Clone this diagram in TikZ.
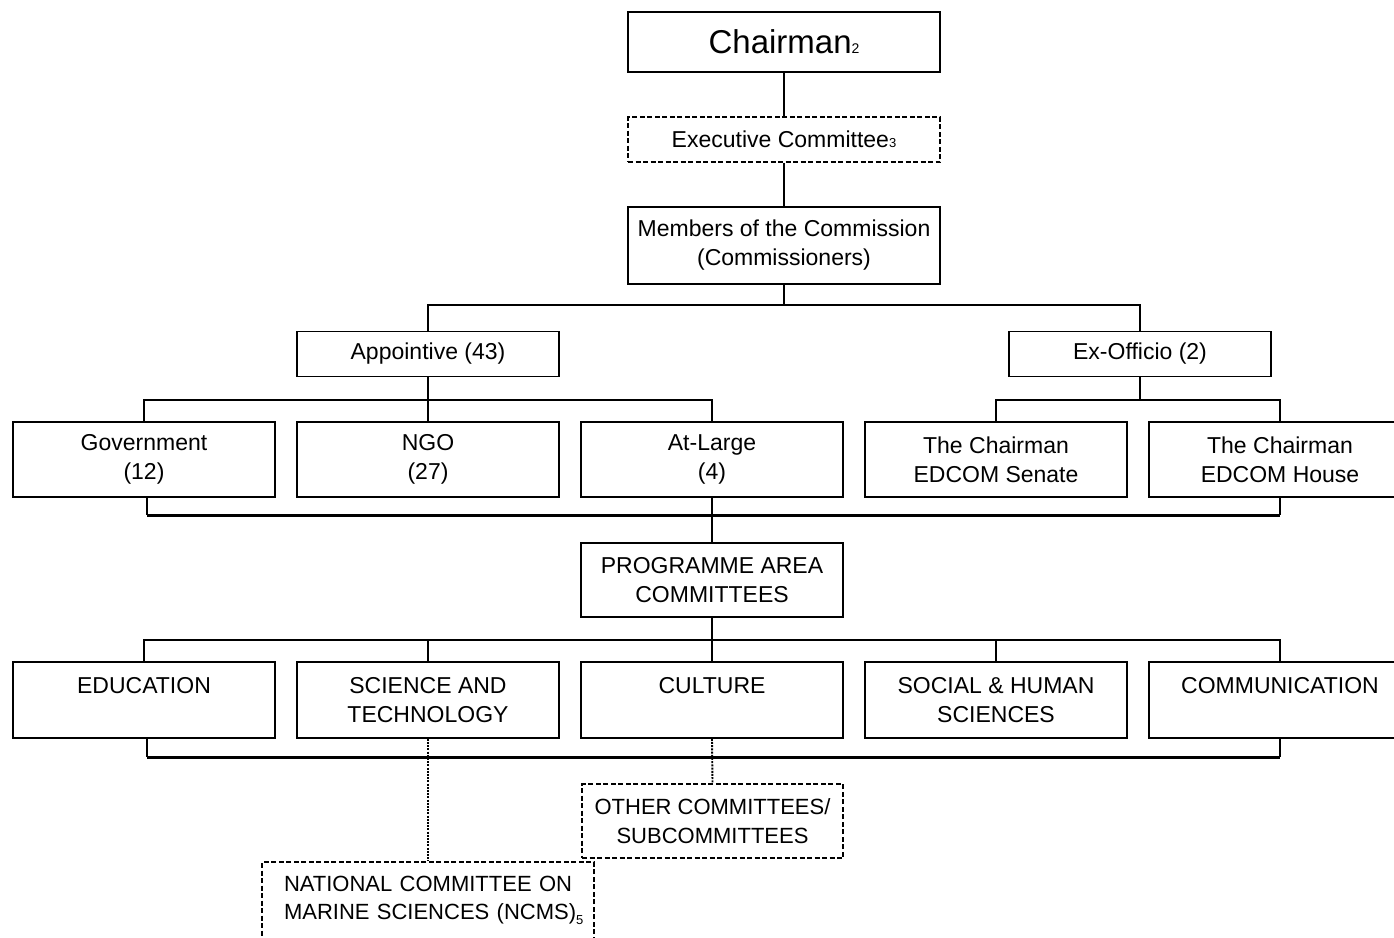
\documentclass[tikz,border=0pt]{standalone}
\usepackage{fontspec}
\setmainfont{Liberation Sans}
\newcommand\normaltxt{\fontsize{23}{29}\selectfont}
\newcommand\smalltxt{\fontsize{22}{28.5}\selectfont}
\newcommand\bigtxt{\fontsize{33}{40}\selectfont}
\begin{document}
\begin{tikzpicture}[x=1pt,y=-1pt,
  box/.style={draw, line width=1.5pt, inner sep=0pt, minimum width=262pt, minimum height=75pt, align=center, font=\normaltxt},
  dbox/.style={box, dash pattern=on 5pt off 2.5pt},
  conn/.style={line width=1.5pt},
  bar/.style={line width=3pt},
  dotl/.style={line width=1.9pt, dash pattern=on 2pt off 1.2pt}]
\clip (0,0) rectangle (1394,937);
\fill[white] (0,0) rectangle (1394,937);
% top
\node[box, minimum width=312pt, minimum height=60pt, font=\bigtxt] (chair) at (784,42) {Chairman{\fontsize{14}{14}\selectfont 2}};
\node[dbox, minimum width=312pt, minimum height=45pt] (exec) at (784,139.5) {Executive Committee{\fontsize{13}{13}\selectfont 3}};
\node[box, minimum width=312pt, minimum height=77pt] (mem) at (784,245.5) {Members of the Commission\\(Commissioners)};
\node[box, minimum height=45pt] (app) at (428,354) {Appointive (43)};
\node[box, minimum height=45pt] (exo) at (1140,354) {Ex-Officio (2)};
% row 1
\node[box] (gov) at (144,459.5) {Government\\(12)};
\node[box] (ngo) at (428,459.5) {NGO\\(27)};
\node[box] (atl) at (712,459.5) {At-Large\\(4)};
\node[box] (sen) at (996,459.5) {The Chairman\\EDCOM Senate};
\node[box] (hou) at (1280,459.5) {The Chairman\\EDCOM House};
% programme
\node[box, minimum height=74pt] (prog) at (712,580) {PROGRAMME AREA\\COMMITTEES};
% row 2
\node[box, minimum height=76pt] (edu) at (144,700) {EDUCATION\\\mbox{}};
\node[box, minimum height=76pt] (sci) at (428,700) {SCIENCE AND\\TECHNOLOGY};
\node[box, minimum height=76pt] (cul) at (712,700) {CULTURE\\\mbox{}};
\node[box, minimum height=76pt] (soc) at (996,700) {SOCIAL \& HUMAN\\SCIENCES};
\node[box, minimum height=76pt] (com) at (1280,700) {COMMUNICATION\\\mbox{}};
% lower
\node[dbox, minimum width=261pt, minimum height=74pt, font=\smalltxt] (oth) at (712.5,821) {OTHER COMMITTEES/\\SUBCOMMITTEES};
\node[dbox, minimum width=332pt, minimum height=100pt, text width=332pt, align=left, font=\smalltxt] (ncms) at (428,912) {\makebox[332pt][l]{\hspace*{22pt}NATIONAL COMMITTEE ON}\\\makebox[332pt][l]{\hspace*{22pt}MARINE SCIENCES (NCMS)\raisebox{-5pt}{\fontsize{13}{13}\selectfont 5}}\\\mbox{}};
% bus coordinates
\coordinate (b1) at (784,305);
\coordinate (b2) at (428,400);
\coordinate (b3) at (1140,400);
\coordinate (b4) at (712,515);
\coordinate (b5) at (712,640);
\coordinate (b6) at (712,757);
% connectors
\draw[conn] (chair.south) -- (exec.north);
\draw[conn] (exec.south) -- (mem.north);
\draw[conn] (mem.south) -- (b1);
\draw[conn] (app.north) |- (b1) -| (exo.north);
\draw[conn] (app.south) -- (b2);
\draw[conn] (gov.north) |- (b2) -| (atl.north);
\draw[conn] (b2) -- (ngo.north);
\draw[conn] (exo.south) -- (b3);
\draw[conn] (sen.north) |- (b3) -| (hou.north);
% bottom bar of row 1
\draw[conn] ([xshift=3pt]gov.south) -- ([xshift=3pt]gov.south |- b4);
\draw[conn] (hou.south) -- (hou.south |- b4);
\draw[bar] ([xshift=3pt]gov.south |- b4) -- (hou.south |- b4);
\draw[conn] (atl.south) -- (prog.north);
% programme bus
\draw[conn] (prog.south) -- (b5);
\draw[conn] (edu.north) |- (b5) -| (com.north);
\draw[conn] (sci.north) -- (sci.north |- b5);
\draw[conn] (cul.north) -- (b5);
\draw[conn] (soc.north) -- (soc.north |- b5);
% bottom bar of row 2
\draw[conn] ([xshift=3pt]edu.south) -- ([xshift=3pt]edu.south |- b6);
\draw[conn] (com.south) -- (com.south |- b6);
\draw[bar] ([xshift=3pt]edu.south |- b6) -- (com.south |- b6);
% dotted links
\draw[dotl] (sci.south) -- (ncms.north);
\draw[dotl] (cul.south) -- (oth.north);
\end{tikzpicture}
\end{document}
